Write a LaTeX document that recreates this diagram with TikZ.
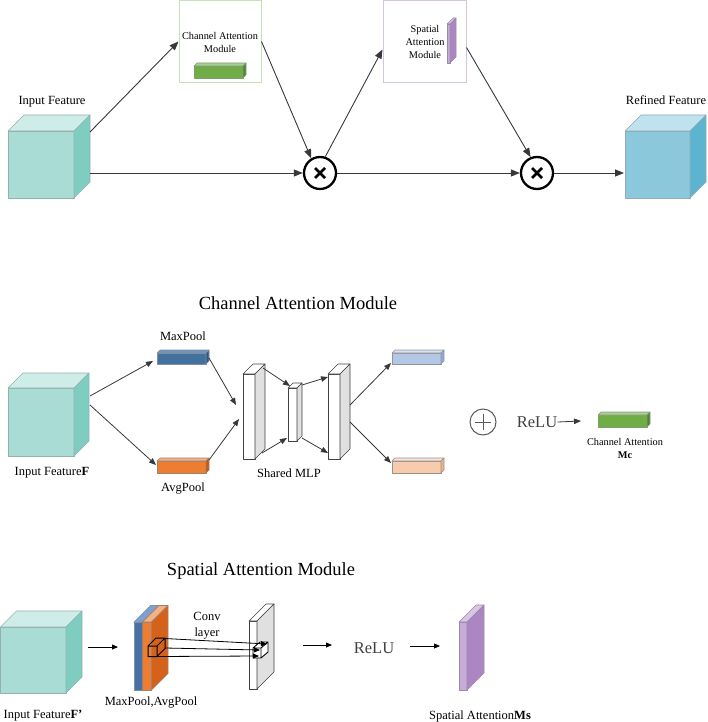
\documentclass[tikz,border=0pt]{standalone}
\usepackage{fontspec}
\setmainfont{Liberation Serif}
\usetikzlibrary{arrows.meta,fit,calc}
\definecolor{cInF}{HTML}{A8DCD4}\definecolor{cInT}{HTML}{CFEDE8}\definecolor{cInS}{HTML}{7FCDC1}\definecolor{cInE}{HTML}{93B2AE}
\definecolor{cRefF}{HTML}{8CC8DC}\definecolor{cRefT}{HTML}{BEE2EE}\definecolor{cRefS}{HTML}{5CB4D0}\definecolor{cRefE}{HTML}{93ACB5}
\definecolor{cGrF}{HTML}{70AD47}\definecolor{cGrT}{HTML}{A9D18E}\definecolor{cGrS}{HTML}{548235}\definecolor{cGrE}{HTML}{7F9F70}
\definecolor{cMpF}{HTML}{41719C}\definecolor{cMpT}{HTML}{6F95BF}\definecolor{cMpS}{HTML}{2E5A85}\definecolor{cMpE}{HTML}{7F8FA0}
\definecolor{cApF}{HTML}{ED7D31}\definecolor{cApT}{HTML}{F4B183}\definecolor{cApS}{HTML}{C55A11}\definecolor{cApE}{HTML}{A08070}
\definecolor{cLbF}{HTML}{B4C7E7}\definecolor{cLbT}{HTML}{D6E1F2}\definecolor{cLbS}{HTML}{8FAADC}\definecolor{cLbE}{HTML}{939393}
\definecolor{cLoF}{HTML}{F8CBAD}\definecolor{cLoT}{HTML}{FBE2D2}\definecolor{cLoS}{HTML}{F4B183}\definecolor{cLoE}{HTML}{939393}
\definecolor{cWF}{HTML}{FFFFFF}\definecolor{cWT}{HTML}{FFFFFF}\definecolor{cWS}{HTML}{E0E0E0}\definecolor{cWE}{HTML}{404040}
\definecolor{cPuF}{HTML}{C7ABD8}\definecolor{cPuT}{HTML}{D9C6E5}\definecolor{cPuS}{HTML}{AC86C2}\definecolor{cPuE}{HTML}{9A8AA6}
\definecolor{cBsF}{HTML}{4472A4}\definecolor{cBsT}{HTML}{7DA0CC}\definecolor{cBsS}{HTML}{41719C}\definecolor{cBsE}{HTML}{7F8FA0}
\definecolor{cOsF}{HTML}{ED7D31}\definecolor{cOsT}{HTML}{F4B183}\definecolor{cOsS}{HTML}{D5621A}\definecolor{cOsE}{HTML}{A08070}
\definecolor{camBorder}{HTML}{C9E1B9}
\definecolor{samBorder}{HTML}{D4C5E2}
\newcommand\mycuboid[7]{%
 \filldraw[fill=#7F,draw=#7E,line width=0.6pt,line join=round] (#2,#3) rectangle ({#2+#4},{#3+#5});
 \filldraw[fill=#7T,draw=#7E,line width=0.6pt,line join=round] (#2,#3) -- ({#2+#6},{#3-#6}) -- ({#2+#4+#6},{#3-#6}) -- ({#2+#4},#3) -- cycle;
 \filldraw[fill=#7S,draw=#7E,line width=0.6pt,line join=round] ({#2+#4},#3) -- ({#2+#4+#6},{#3-#6}) -- ({#2+#4+#6},{#3+#5-#6}) -- ({#2+#4},{#3+#5}) -- cycle;
 \node[fit={(#2,{#3-#6}) ({#2+#4+#6},{#3+#5})},inner sep=0pt] (#1) {};
}
\begin{document}
\begin{tikzpicture}[x=1pt,y=-1pt,
 arrT/.style={draw=black!78, line width=0.9pt, -{Triangle[length=9pt,width=7pt]}},
 arrM/.style={draw=black!78, line width=0.8pt, -{Triangle[length=7pt,width=5.5pt]}},
 arrS/.style={draw=black, line width=0.8pt, -{Triangle[length=6pt,width=5pt]}},
 lab/.style={inner sep=0pt, font=\fontsize{12.5}{15}\selectfont},
 ttl/.style={inner sep=0pt, font=\fontsize{18.5}{22}\selectfont},
 small/.style={inner sep=0pt, align=center, font=\fontsize{10.3}{13}\selectfont},
 relu/.style={inner sep=0pt, text=black!75, font=\fontsize{16.5}{20}\selectfont},
 mulc/.style={circle, draw=black, line width=2.3pt, minimum size=32pt, inner sep=0pt},
 plusc/.style={circle, draw=black!65, line width=1pt, minimum size=26pt, inner sep=0pt},
 modbox/.style={draw, line width=1pt, minimum width=82pt, minimum height=82pt, inner sep=0pt}]
\useasboundingbox (0,0) rectangle (708,722);

%================ TOP =================
\mycuboid{inA}{8}{131}{66}{67}{16}{cIn}
\node[lab] (labInA) at (52,102) {Input Feature};

\node[modbox, draw=camBorder] (cam) at (220,41.5) {};
\node[small] (camtxt) at (220,42.5) {Channel Attention\\Module};
\mycuboid{camBar}{194}{66}{49}{12}{3}{cGr}

\node[modbox, draw=samBorder, minimum width=83pt] (sam) at (424.5,41.5) {};
\node[small] (samtxt) at (425,42) {Spatial\\Attention\\Module};
\mycuboid{samSlab}{447}{24}{3}{39}{6}{cPu}

\node[mulc] (mul1) at (320,173) {};
\draw[line width=2.5pt] ($(mul1.center)+(-5,-5)$) -- ($(mul1.center)+(5,5)$);
\draw[line width=2.5pt] ($(mul1.center)+(-5,5)$) -- ($(mul1.center)+(5,-5)$);
\node[mulc] (mul2) at (537,173) {};
\draw[line width=2.5pt] ($(mul2.center)+(-5,-5)$) -- ($(mul2.center)+(5,5)$);
\draw[line width=2.5pt] ($(mul2.center)+(-5,5)$) -- ($(mul2.center)+(5,-5)$);

\mycuboid{refC}{625}{131}{65}{67}{16}{cRef}
\node[lab] (labRef) at (666,100) {Refined Feature};

\coordinate (inAup) at (90,132);
\coordinate (inAlo) at (90,173);
\coordinate (refIn) at (624,173);
\draw[arrT] (inAup) -- (cam.west);
\draw[arrT] (inAlo) -- (mul1.west);
\draw[arrT] (cam.east) -- (mul1.121);
\draw[arrT] (mul1.72) -- ($(sam.west)+(0,8)$);
\draw[arrT] ($(sam.east)+(0,6)$) -- (mul2.112);
\draw[arrT] (mul1.east) -- (mul2.west);
\draw[arrT] (mul2.east) -- (refIn);

%================ MIDDLE =================
\node[ttl] (ttlCam) at (298,303) {Channel Attention Module};
\mycuboid{inB}{8}{388}{66}{68}{15}{cIn}
\node[lab] (labInB) at (52,473) {Input Feature\textbf{F}};

\mycuboid{mp}{157}{353}{49}{11}{3}{cMp}
\node[lab] (labMp) at (183,336) {MaxPool};
\mycuboid{ap}{157}{461}{49}{12}{3}{cAp}
\node[lab] (labAp) at (183,489) {AvgPool};

\coordinate (inBup) at (90,396);
\coordinate (inBlo) at (90,405);
\coordinate (mpIn) at (153,361);
\coordinate (apIn) at (156,465);
\draw[arrM] (inBup) -- (mpIn);
\draw[arrM] (inBlo) -- (apIn);

\mycuboid{mlp1}{243}{374}{12}{85}{10}{cW}
\mycuboid{mlp2}{288}{388}{9}{53}{5}{cW}
\mycuboid{mlp3}{328}{374}{12}{85}{10}{cW}
\node[lab] (labMlp) at (289,473) {Shared MLP};

\coordinate (mpOut) at (209,358);
\coordinate (apOut) at (209,460);
\coordinate (mlpInA) at (236,405);
\coordinate (mlpInB) at (239,419);
\draw[arrM] (mpOut) -- (mlpInA);
\draw[arrM] (apOut) -- (mlpInB);

\coordinate (m1a) at (263,368);
\coordinate (m1b) at (262,453);
\coordinate (m2ia) at (290,386);
\coordinate (m2ib) at (287,438);
\coordinate (m2oa) at (302,385);
\coordinate (m2ob) at (302,438);
\coordinate (m3ia) at (328,377);
\coordinate (m3ib) at (328,453);
\draw[arrM] (m1a) -- (m2ia);
\draw[arrM] (m1b) -- (m2ib);
\draw[arrM] (m2oa) -- (m3ia);
\draw[arrM] (m2ob) -- (m3ib);

\mycuboid{lb}{392}{353}{49}{11}{3}{cLb}
\mycuboid{lo}{392}{461}{49}{12}{3}{cLo}
\coordinate (m3oa) at (350,405);
\coordinate (m3ob) at (350,422);
\coordinate (lbIn) at (391,363);
\coordinate (loIn) at (391,463);
\draw[arrM] (m3oa) -- (lbIn);
\draw[arrM] (m3ob) -- (loIn);

\node[plusc] (plus) at (483,422) {};
\draw[black!65, line width=1pt] ($(plus.center)+(-8,0)$) -- ($(plus.center)+(8,0)$);
\draw[black!65, line width=1pt] ($(plus.center)+(0,-8)$) -- ($(plus.center)+(0,8)$);

\node[relu] (relu1) at (537,422) {ReLU};
\coordinate (gbIn) at (581,421);
\draw[arrM] (relu1.east) -- (gbIn);
\mycuboid{gb}{598}{415}{49}{12}{3}{cGr}
\node[small] (labMc) at (625,448) {Channel Attention\\\textbf{Mc}};

%================ BOTTOM =================
\node[ttl] (ttlSam) at (261,571) {Spatial Attention Module};
\mycuboid{inC}{0.5}{627}{65.5}{66}{16}{cIn}
\node[lab] (labInC) at (43,716) {Input Feature\textbf{F’}};
\coordinate (inCout) at (88,647);
\coordinate (poolIn) at (118,647);
\draw[arrS] (inCout) -- (poolIn);

\mycuboid{bslab}{134}{622}{8.5}{68}{16.5}{cBs}
\mycuboid{oslab}{142.5}{622}{9}{68}{16.5}{cOs}
\node[lab] (labPool) at (151,703) {MaxPool,AvgPool};

% small cube on pooled maps
\draw[black, line width=1pt, line join=round] (148,646) rectangle (157,656.5)
  (148,646) -- (156,638) -- (165,638) -- (157,646)
  (165,638) -- (165,648.5) -- (157,656.5);

\mycuboid{wslab}{249}{621}{8}{68}{17}{cW}
\filldraw[fill=white, draw=black, line width=0.9pt, line join=round] (253,648) rectangle (261,658)
  (253,648) -- (260,642) -- (268,642) -- (261,648) -- cycle
  (261,648) -- (268,642) -- (268,652) -- (261,658) -- cycle;

\node[lab, align=center, font=\fontsize{12.5}{16}\selectfont] (labConv) at (207,626) {Conv\\layer};

\coordinate (k1) at (165,638.5);
\coordinate (k2) at (165,648);
\coordinate (k3) at (157,656.5);
\coordinate (t1) at (267,644);
\coordinate (t2) at (260,650);
\coordinate (t3) at (259,656);
\draw[arrS] (k1) -- (t1);
\draw[arrS] (k2) -- (t2);
\draw[arrS] (k3) -- (t3);

\coordinate (wOut) at (303,645);
\coordinate (reluIn) at (332,645);
\draw[arrS] (wOut) -- (reluIn);
\node[relu] (relu2) at (374,648) {ReLU};
\coordinate (r2out) at (410,646);
\coordinate (puIn) at (440,646);
\draw[arrS] (r2out) -- (puIn);

\mycuboid{puSlab}{459}{622}{8}{68}{17}{cPu}
\node[lab] (labMs) at (480,716) {Spatial Attention\textbf{Ms}};
\end{tikzpicture}
\end{document}
